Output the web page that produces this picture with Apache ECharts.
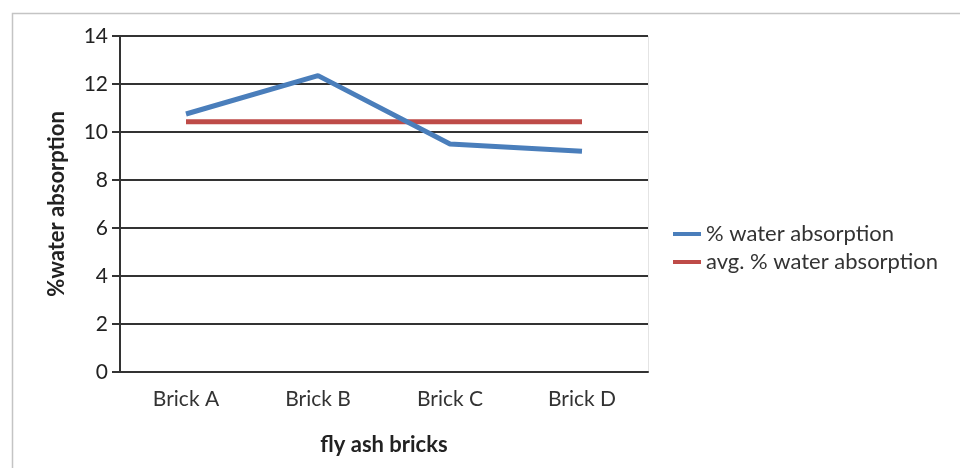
<!DOCTYPE html>
<html>
<head>
<meta charset="utf-8">
<script src="https://cdn.jsdelivr.net/npm/echarts@6/dist/echarts.min.js"></script>
<style>
  html, body { margin: 0; padding: 0; background: #fff; }
  #chart { width: 960px; height: 468px; }
</style>
</head>
<body>
<div id="chart"></div>
<script>
// Water absorption of fly ash bricks
const categories = ['Brick A', 'Brick B', 'Brick C', 'Brick D'];
const waterAbsorption = [10.75, 12.35, 9.5, 9.2];
const avgWaterAbsorption = [10.43, 10.43, 10.43, 10.43];
const yTicks = [0, 2, 4, 6, 8, 10, 12, 14];

const chart = echarts.init(document.getElementById('chart'));
const font = 'Lato, "Open Sans", sans-serif';

chart.setOption({
  animation: false,
  backgroundColor: '#fff',
  graphic: [{
    type: 'rect',
    shape: { x: 12.5, y: 13.5, width: 960, height: 470 },
    style: { fill: 'none', stroke: '#c4c4c4', lineWidth: 1.5 },
    silent: true
  }, {
    type: 'line',
    shape: { x1: 648.5, y1: 36, x2: 648.5, y2: 372 },
    style: { stroke: '#e4e4e4', lineWidth: 1 },
    silent: true
  }],
  grid: { left: 120, right: 312, top: 36, bottom: 96, containLabel: false },
  legend: {
    orient: 'vertical',
    left: 668,
    top: 218,
    itemWidth: 28,
    itemHeight: 4,
    itemGap: 6,
    icon: 'rect',
    textStyle: { fontFamily: font, fontSize: 22, color: '#333' },
    data: ['% water absorption', 'avg. % water absorption']
  },
  xAxis: {
    type: 'category',
    data: categories,
    boundaryGap: true,
    name: 'fly ash bricks',
    nameLocation: 'middle',
    nameGap: 62,
    nameTextStyle: { fontFamily: font, fontSize: 22, fontWeight: 'bold', color: '#222' },
    axisLine: { lineStyle: { color: '#333', width: 2 } },
    axisTick: { show: false },
    axisLabel: { fontFamily: font, fontSize: 21, color: '#333', margin: 17 }
  },
  yAxis: {
    type: 'value',
    min: yTicks[0],
    max: yTicks[yTicks.length - 1],
    interval: 2,
    name: '%water absorption',
    nameLocation: 'middle',
    nameGap: 52,
    nameRotate: 90,
    nameTextStyle: { fontFamily: font, fontSize: 22, fontWeight: 'bold', color: '#222' },
    axisLine: { show: true, lineStyle: { color: '#333', width: 2 } },
    axisTick: { show: true, inside: false, length: 8, lineStyle: { color: '#333', width: 2 } },
    axisLabel: { fontFamily: font, fontSize: 21, color: '#222', margin: 12 },
    splitLine: { show: true, lineStyle: { color: '#333', width: 2 } }
  },
  series: [{
    name: '% water absorption',
    type: 'line',
    data: waterAbsorption,
    symbol: 'none',
    itemStyle: { color: '#4a7ebb' },
    lineStyle: { color: '#4a7ebb', width: 5 },
    z: 3
  }, {
    name: 'avg. % water absorption',
    type: 'line',
    data: avgWaterAbsorption,
    symbol: 'none',
    itemStyle: { color: '#be4b48' },
    lineStyle: { color: '#be4b48', width: 5 },
    z: 2
  }]
});
</script>
</body>
</html>
